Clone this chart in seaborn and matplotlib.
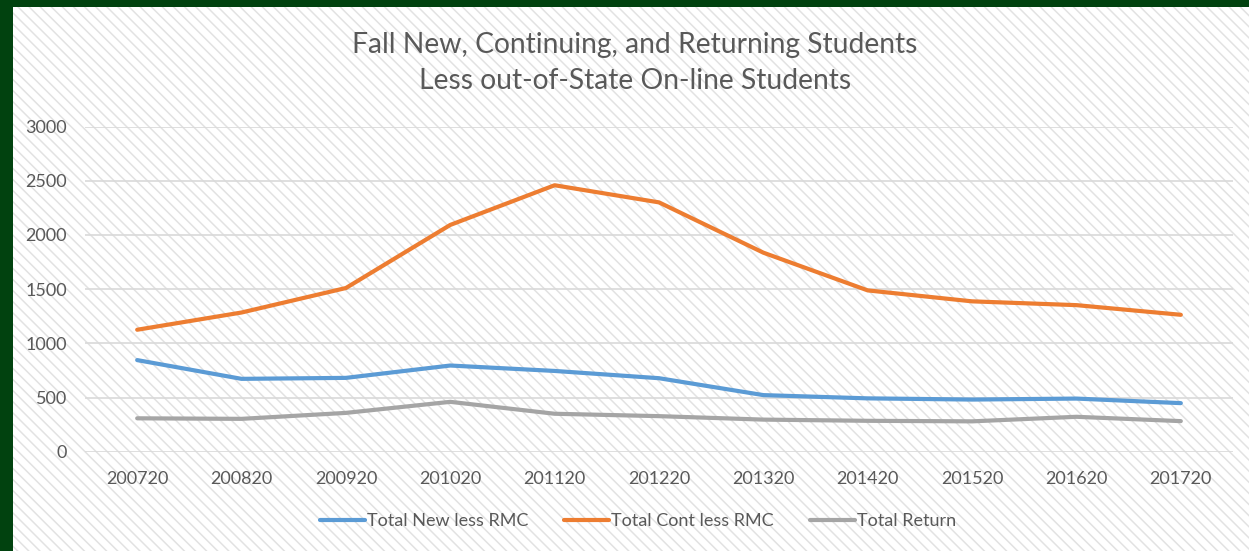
import matplotlib.pyplot as plt
import matplotlib.patches as mpatches
import seaborn as sns
import pandas as pd

terms = ['200720', '200820', '200920', '201020', '201120', '201220',
         '201320', '201420', '201520', '201620', '201720']
new_less_rmc = [845, 672, 681, 795, 745, 678, 522, 492, 481, 490, 448]
cont_less_rmc = [1125, 1284, 1510, 2092, 2458, 2300, 1836, 1488, 1387, 1352, 1263]
total_return = [308, 303, 358, 460, 350, 328, 296, 285, 280, 322, 282]

series_names = ['Total New less RMC', 'Total Cont less RMC', 'Total Return']
colors = ['#5B9BD5', '#ED7D31', '#A5A5A5']
text_color = '#595959'

df = pd.DataFrame({'term': terms,
                   series_names[0]: new_less_rmc,
                   series_names[1]: cont_less_rmc,
                   series_names[2]: total_return})
long_df = df.melt(id_vars='term', var_name='series', value_name='students')

sns.set_theme(style='white')
plt.rcParams['font.family'] = ['Lato', 'DejaVu Sans']
plt.rcParams['hatch.linewidth'] = 1.1

W, H = 1249, 551
fig = plt.figure(figsize=(W / 100, H / 100), dpi=100)

# hatched page background + dark green frame on left/top
bg = mpatches.Rectangle((0, 0), 1, 1, transform=fig.transFigure,
                        facecolor='white', edgecolor='#E2E2E2', hatch='\\\\\\',
                        linewidth=0, zorder=-10)
fig.patches.append(bg)
fig.patches.append(mpatches.Rectangle((0, 0), 13 / W, 1, transform=fig.transFigure,
                                      facecolor='#01420F', linewidth=0, zorder=-5))
fig.patches.append(mpatches.Rectangle((0, 1 - 7 / H), 1, 7 / H, transform=fig.transFigure,
                                      facecolor='#01420F', linewidth=0, zorder=-5))

ax = fig.add_axes([85 / W, (H - 451.7) / H, 1148 / W, 325.2 / H])
ax.patch.set_alpha(0)

sns.lineplot(data=long_df, x='term', y='students', hue='series',
             palette=colors, linewidth=3.0, ax=ax, solid_capstyle='round')

ax.set_xlim(-0.5, len(terms) - 0.5)
ax.set_ylim(0, 3000)
ax.set_yticks(range(0, 3001, 500))
ax.yaxis.grid(True, color='#D9D9D9', linewidth=1.2)
ax.set_axisbelow(True)
for s in ax.spines.values():
    s.set_visible(False)
ax.set_xlabel('')
ax.set_ylabel('')
ax.tick_params(axis='y', length=0, pad=13, labelsize=13, labelcolor=text_color)
ax.tick_params(axis='x', length=0, pad=14, labelsize=13, labelcolor=text_color)

handles, labels = ax.get_legend_handles_labels()
ax.get_legend().remove()
fig.legend(handles, labels, loc='center', bbox_to_anchor=(638 / W, 1 - 521 / H),
           ncol=3, frameon=False, fontsize=13, handlelength=2.5,
           handletextpad=0.1, columnspacing=2.0, labelcolor=text_color)

fig.text(635 / W, 1 - 45 / H, 'Fall New, Continuing, and Returning Students',
         ha='center', va='center', fontsize=20.3, color=text_color)
fig.text(635 / W, 1 - 81 / H, 'Less out-of-State On-line Students',
         ha='center', va='center', fontsize=20.3, color=text_color)

fig.savefig('out.png', dpi=100)
